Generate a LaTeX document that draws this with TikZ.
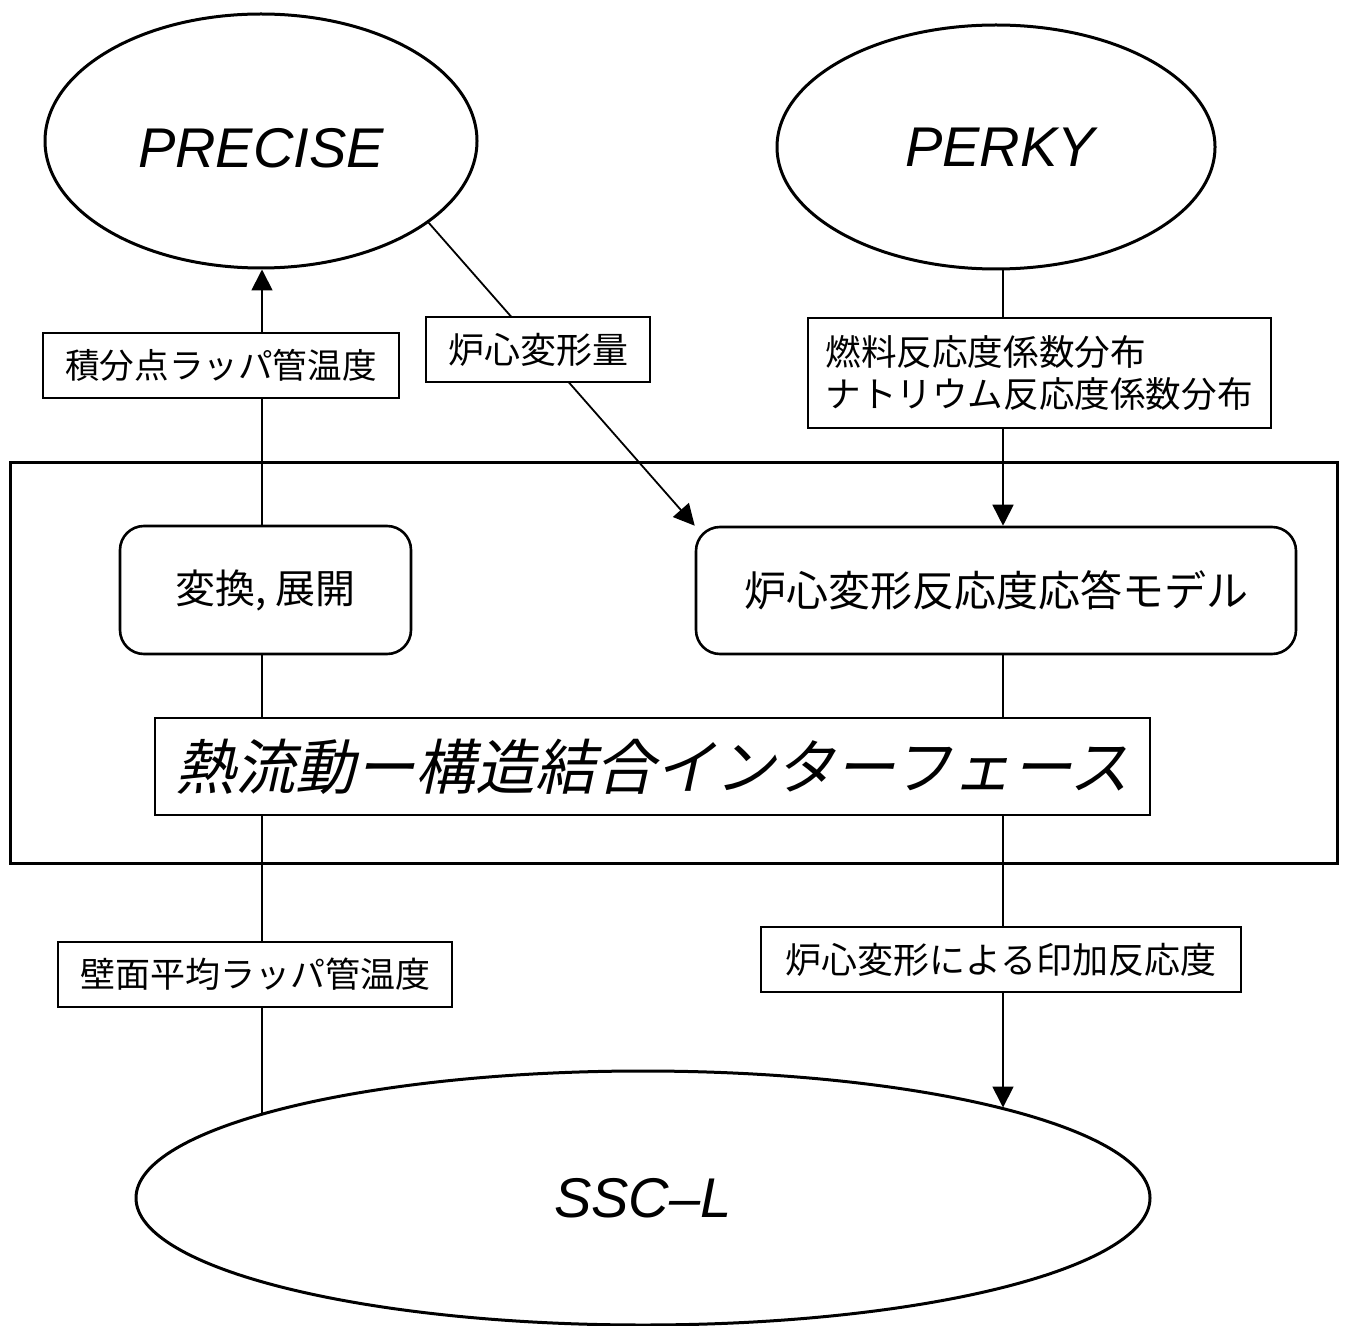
\documentclass[tikz,border=0pt]{standalone}
\usepackage{fontspec}
\setmainfont{Liberation Sans}
\newfontfamily\jp{Noto Sans CJK JP}
\newfontfamily\jpit[FakeSlant=0.22]{Noto Sans CJK JP}
\usetikzlibrary{shapes.geometric,arrows.meta,backgrounds,calc}
\begin{document}
\begin{tikzpicture}[x=0.5pt,y=-0.5pt,
  prog/.style={ellipse,draw,line width=1.5pt,inner sep=0pt,fill=white,font=\itshape\fontsize{28}{30}\selectfont},
  proc/.style={draw,rounded corners=12pt,line width=1.3pt,fill=white,inner sep=0pt},
  lbl/.style={draw,line width=0.8pt,fill=white,inner sep=0pt},
  conn/.style={line width=0.9pt},
  arr/.style={conn,-{Triangle[length=10.5pt,width=10.5pt]}}]
\useasboundingbox (0,0) rectangle (1348,1326);
% interface frame
\node[draw,line width=1.5pt,minimum width=663.5pt,minimum height=200.5pt,inner sep=0pt] (frame) at (673.5,662.5) {};
% programs
\node[prog,minimum width=216pt,minimum height=127pt] (precise) at (261,141) {\smash{\raisebox{-13.5pt}{PRECISE}}};
\node[prog,minimum width=219pt,minimum height=122pt] (perky) at (996,147) {\hspace*{4pt}PERKY};
\node[prog,minimum width=507pt,minimum height=127pt] (ssc) at (643,1198) {\raisebox{-2pt}{SSC–L}};
% processes
\node[proc,minimum width=145.5pt,minimum height=64pt,font=\jp\fontsize{20}{22}\selectfont] (conv) at (265.5,590) {変換, 展開};
\node[proc,minimum width=300pt,minimum height=63.5pt,font=\jp\fontsize{21}{23}\selectfont] (model) at (996,590.5) {炉心変形反応度応答モデル};
\node[lbl,minimum width=497.5pt,minimum height=48.5pt,font=\jpit\fontsize{30}{32}\selectfont] (title) at (652.5,766.5) {熱流動ー構造結合インターフェース};
% labels
\node[lbl,minimum width=178pt,minimum height=32.5pt,font=\jp\fontsize{17.3}{20}\selectfont] (l1) at (221,365.5) {積分点ラッパ管温度};
\node[lbl,minimum width=112pt,minimum height=32.5pt,font=\jp\fontsize{18}{20}\selectfont] (l2) at (538,349.5) {炉心変形量};
\node[lbl,minimum width=231.5pt,minimum height=55pt,text width=214pt,align=left,font=\jp\fontsize{17.8}{21}\selectfont] (l3) at (1039.5,373) {燃料反応度係数分布\\ナトリウム反応度係数分布};
\node[lbl,minimum width=197pt,minimum height=32.5pt,font=\jp\fontsize{17.5}{20}\selectfont] (l4) at (255,974.5) {壁面平均ラッパ管温度};
\node[lbl,minimum width=240pt,minimum height=32.5pt,font=\jp\fontsize{18}{20}\selectfont] (l5) at (1001,959.5) {炉心変形による印加反応度};
% connectors
\coordinate (lx) at (262,0);
\coordinate (rx) at (1003,0);
\begin{scope}[on background layer]
\draw[arr] ($(lx |- ssc.center)+(0,-84)$) -- (lx |- precise.south);
\draw[arr] (precise.-26) -- (model.north west);
\draw[arr] (rx |- perky.south) -- (rx |- model.north);
\draw[arr] (rx |- model.south) -- ($(rx |- ssc.center)+(0,-90.5)$);
\end{scope}
\end{tikzpicture}
\end{document}
